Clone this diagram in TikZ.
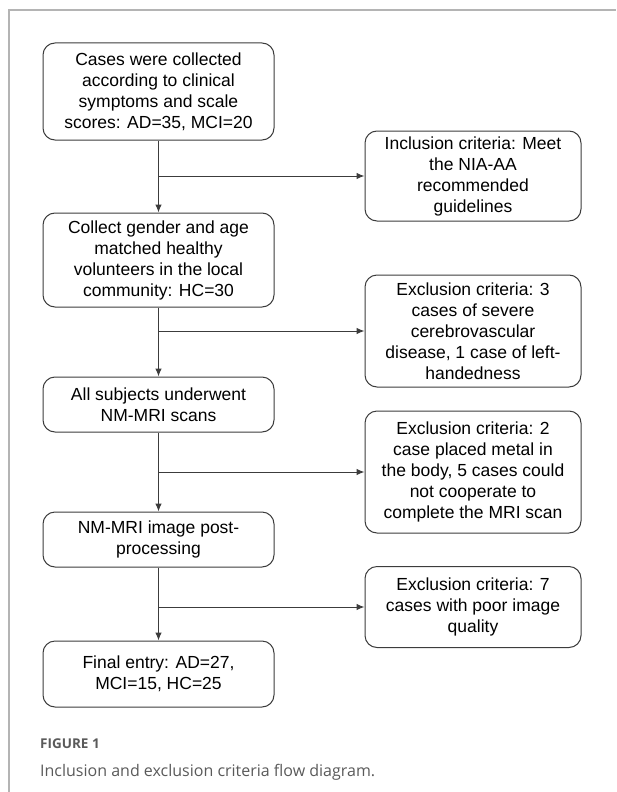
\documentclass[tikz,border=0pt]{standalone}
\usepackage{fontspec}
\setmainfont{Liberation Sans}
\newfontfamily\capfont{Open Sans}
\usetikzlibrary{arrows.meta,shapes,positioning}
\definecolor{boxline}{HTML}{3C3C3C}
\definecolor{framegray}{HTML}{B4B4B4}
\definecolor{capgray}{HTML}{5A5A5A}

\begin{document}
\begin{tikzpicture}[x=1pt,y=-1pt,
    flowbox/.style={draw=boxline, line width=1pt, rounded corners=12pt, align=center,
      inner sep=0pt, font=\fontsize{17.5}{21}\selectfont},
    leftbox/.style={flowbox, minimum width=231pt},
    rightbox/.style={flowbox, minimum width=216pt},
    flowarrow/.style={draw=boxline, line width=1pt, -{Latex[length=8pt,width=6.5pt]}}]
      \useasboundingbox (0,0) rectangle (616,792);
      \draw [framegray, line width=1.5pt] (9,792) -- (9,10) -- (616,10);
      \node [leftbox, minimum height=97pt] (cases) at (158.5,91.5)
        {Cases were collected\\according to clinical\\symptoms and scale\\scores: AD=35, MCI=20};
      \node [rightbox, minimum height=90pt] (incl) at (473,176)
        {Inclusion criteria: Meet\\the NIA-AA\\recommended\\guidelines};
      \node [leftbox, minimum height=94pt] (healthy) at (158.5,260)
        {Collect gender and age\\matched healthy\\volunteers in the local\\community: HC=30};
      \node [rightbox, minimum height=112pt] (exclA) at (473,331)
        {Exclusion criteria: 3\\cases of severe\\cerebrovascular\\disease, 1 case of left-\\handedness};
      \node [leftbox, minimum height=55pt] (scans) at (158.5,404.5)
        {All subjects underwent\\NM-MRI scans};
      \node [rightbox, minimum height=122pt] (exclB) at (473,472)
        {Exclusion criteria: 2\\case placed metal in\\the body, 5 cases could\\not cooperate to\\complete the MRI scan};
      \node [leftbox, minimum height=55pt] (post) at (158.5,539.5)
        {NM-MRI image post-\\processing};
      \node [rightbox, minimum height=81pt] (exclC) at (473,607)
        {Exclusion criteria: 7\\cases with poor image\\quality};
      \node [leftbox, minimum height=66pt] (final) at (158.5,674)
        {Final entry: AD=27,\\MCI=15, HC=25};
      \draw [flowarrow] (cases) -- (healthy);
      \draw [flowarrow] (healthy) -- (scans);
      \draw [flowarrow] (scans) -- (post);
      \draw [flowarrow] (post) -- (final);
      \draw [flowarrow] (cases.south |- incl.west) -- (incl.west);
      \draw [flowarrow] (healthy.south |- exclA.west) -- (exclA.west);
      \draw [flowarrow] (scans.south |- exclB.west) -- (exclB.west);
      \draw [flowarrow] (post.south |- exclC.west) -- (exclC.west);
      \node [right, inner sep=0pt, text=capgray, font=\capfont\bfseries\fontsize{13.5}{16}\selectfont] (fig) at (40,744) {FIGURE 1};
      \node [right, inner sep=0pt, text=capgray, font=\capfont\fontsize{16}{19}\selectfont] (caption) at (40,772) {Inclusion and exclusion criteria flow diagram.};
\end{tikzpicture}
\end{document}
